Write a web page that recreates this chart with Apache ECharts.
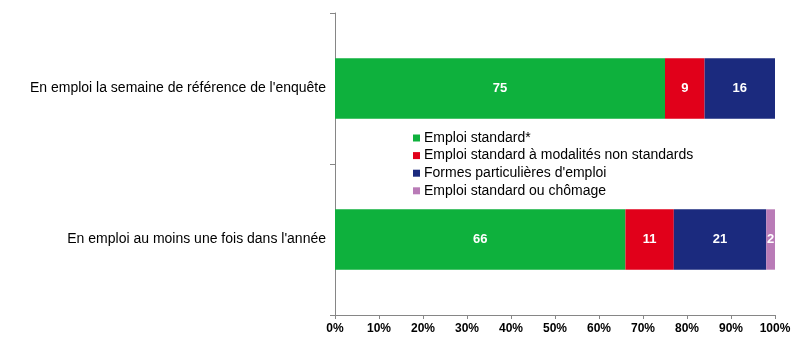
<!DOCTYPE html>
<html><head><meta charset="utf-8">
<script src="https://cdn.jsdelivr.net/npm/echarts@6/dist/echarts.min.js"></script>
<style>html,body{margin:0;padding:0;background:#fff}#c{width:802px;height:361px}</style>
</head><body><div id="c"></div>
<script>
const categories = ["En emploi la semaine de référence de l'enquête", "En emploi au moins une fois dans l'année"];
const seriesNames = ["Emploi standard*", "Emploi standard à modalités non standards", "Formes particulières d'emploi", "Emploi standard ou chômage"];
const standard = [75, 66];
const modalites = [9, 11];
const formes = [16, 21];
const chomage = [null, 2];
const tickLabels = ["0%","10%","20%","30%","40%","50%","60%","70%","80%","90%","100%"];
const colors = ["#0EB13D", "#E1001A", "#1B2A7E", "#B97BB7"];
const values = [standard, modalites, formes, chomage];
const font = "Arial, 'Liberation Sans', sans-serif";
const chart = echarts.init(document.getElementById('c'), null, {renderer: 'canvas'});
chart.setOption({
  animation: false,
  backgroundColor: '#fff',
  grid: {left: 335, right: 27, top: 13, bottom: 46, containLabel: false},
  legend: {
    orient: 'vertical', left: 408, top: 126,
    itemWidth: 7, itemHeight: 7, itemGap: 3.6,
    icon: 'rect',
    textStyle: {fontFamily: font, fontSize: 14, color: '#000', lineHeight: 14, padding: [0,0,0,-1]},
    data: seriesNames
  },
  xAxis: {
    type: 'value', min: 0, max: 100, interval: 10,
    axisLine: {show: true, lineStyle: {color: '#868686'}},
    axisTick: {show: true, length: 4, inside: false, lineStyle: {color: '#868686'}},
    splitLine: {show: false},
    axisLabel: {formatter: v => tickLabels[Math.round(v/10)], fontFamily: font, fontSize: 12, fontWeight: 'bold', color: '#000', margin: 8}
  },
  yAxis: {
    type: 'category', data: categories, inverse: true,
    axisLine: {show: true, lineStyle: {color: '#868686'}},
    axisTick: {show: true, length: 5, alignWithLabel: false, lineStyle: {color: '#868686'}},
    axisLabel: {fontFamily: font, fontSize: 14, color: '#000', margin: 9}
  },
  series: seriesNames.map((n, i) => ({
    name: n, type: 'bar', stack: 'total', data: values[i],
    barCategoryGap: '60%',
    itemStyle: {color: colors[i]},
    label: {show: true, position: 'inside', color: '#fff', fontFamily: font, fontWeight: 'bold', fontSize: 13}
  }))
});
</script></body></html>
